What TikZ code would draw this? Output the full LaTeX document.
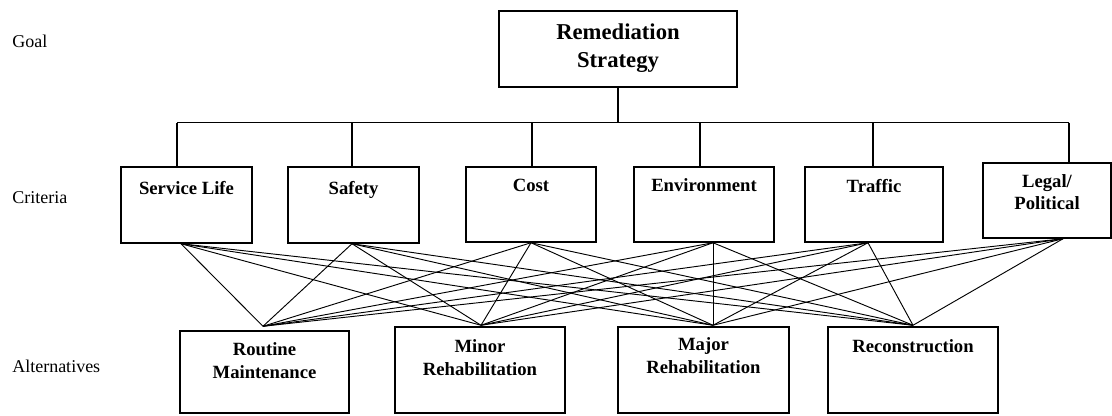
\documentclass[tikz,border=0pt]{standalone}
\usepackage{fontspec}
\setmainfont{Liberation Serif}
\usetikzlibrary{fit,calc}
\begin{document}
\begin{tikzpicture}[x=0.75pt,y=-0.75pt,
  box/.style={draw, line width=1.1pt, inner sep=0pt, rectangle},
  boxtext/.style={anchor=north, inner sep=0pt, align=center,
    font=\bfseries\fontsize{14}{16.5}\selectfont},
  alttext/.style={boxtext, font=\bfseries\fontsize{14}{17.25}\selectfont},
  goaltext/.style={boxtext, font=\bfseries\fontsize{17}{21}\selectfont},
  level/.style={anchor=base west, inner sep=0pt, font=\fontsize{13.5}{16}\selectfont},
  tree/.style={line width=0.9pt},
  link/.style={line width=0.7pt}]
\useasboundingbox (0,0) rectangle (1112,415);

% level captions
\node[level] (lv-goal) at (12,47) {Goal};
\node[level] (lv-crit) at (12,203) {Criteria};
\node[level] (lv-alt)  at (12,372) {Alternatives};

% goal
\node[box, fit={(499,11)(737,87)}] (goal) {};
\node[goaltext] (goal-l) at ($(goal.north)+(0,13)$) {Remediation\\Strategy};

% criteria
\node[box, fit={(121,167)(252,243)}]  (sl) {};
\node[box, fit={(288,167)(419,243)}]  (sa) {};
\node[box, fit={(466,167)(596,242)}]  (co) {};
\node[box, fit={(634,167)(774,242)}]  (en) {};
\node[box, fit={(805,167)(943,242)}]  (tr) {};
\node[box, fit={(983,163)(1111,238)}] (lp) {};
\node[boxtext] (sl-l) at ($(sl.north)+(0,15)$) {Service Life};
\node[boxtext] (sa-l) at ($(sa.north)+(0,15)$) {Safety};
\node[boxtext] (co-l) at ($(co.north)+(0,13)$) {Cost};
\node[boxtext] (en-l) at ($(en.north)+(0,12)$) {Environment};
\node[boxtext] (tr-l) at ($(tr.north)+(0,13)$) {Traffic};
\node[boxtext] (lp-l) at ($(lp.north)+(0,12)$) {Legal/\\Political};

% alternatives
\node[box, fit={(180,331)(349,413)}] (rm) {};
\node[box, fit={(395,327)(565,413)}] (mi) {};
\node[box, fit={(618,327)(789,413)}] (ma) {};
\node[box, fit={(828,327)(998,413)}] (rc) {};
\node[alttext] (rm-l) at ($(rm.north)+(0,12)$) {Routine\\Maintenance};
\node[alttext] (mi-l) at ($(mi.north)+(0,13)$) {Minor\\Rehabilitation};
\node[alttext] (ma-l) at ($(ma.north)+(0,11)$) {Major\\Rehabilitation};
\node[alttext] (rc-l) at ($(rc.north)+(0,13)$) {Reconstruction};

% where the tree stems meet the criteria
\coordinate (sl-s) at ($(sl.north)+(-9.5,0)$);
\coordinate (sa-s) at ($(sa.north)+(-1.5,0)$);
\coordinate (co-s) at ($(co.north)+(1,0)$);
\coordinate (en-s) at ($(en.north)+(-4,0)$);
\coordinate (tr-s) at ($(tr.north)+(-1,0)$);
\coordinate (lp-s) at ($(lp.north)+(22,0)$);
\coordinate (bus) at ($(goal.south)+(0,35)$);

% goal-to-criteria tree
\draw[tree] (goal.south) -- (goal.south |- bus);
\draw[tree] (sl-s |- bus) -- (lp-s |- bus);
\foreach \c in {sl,sa,co,en,tr,lp}
  \draw[tree] (\c-s |- bus) -- (\c-s);

% criteria-to-alternatives links
\coordinate (sl-b) at ($(sl.south)+(-5.5,0)$);
\coordinate (sa-b) at ($(sa.south)+(-1.5,0)$);
\coordinate (co-b) at (co.south);
\coordinate (en-b) at ($(en.south)+(9,0)$);
\coordinate (tr-b) at ($(tr.south)+(-6,0)$);
\coordinate (lp-b) at ($(lp.south)+(16,0)$);
\coordinate (rm-t) at ($(rm.north)+(-1.5,-4)$);
\coordinate (mi-t) at ($(mi.north)+(1,-1)$);
\coordinate (ma-t) at ($(ma.north)+(9.5,-1)$);
\coordinate (rc-t) at ($(rc.north)+(0,-1)$);
\foreach \c in {sl,sa,co,en,tr,lp}
  \foreach \a in {rm,mi,ma,rc}
    \draw[link] (\c-b) -- (\a-t);
\end{tikzpicture}
\end{document}
